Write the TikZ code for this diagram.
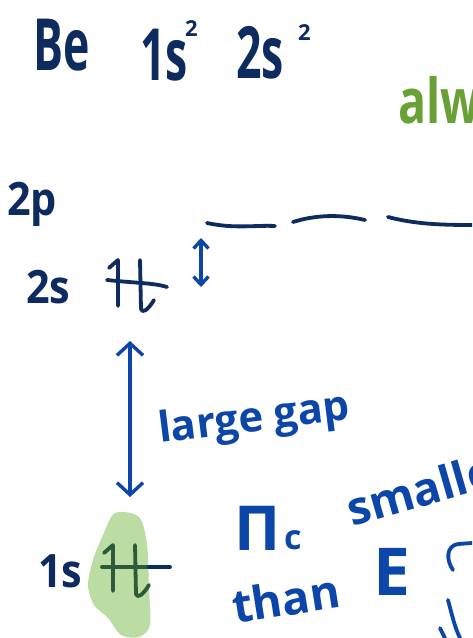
\documentclass[tikz,border=0pt]{standalone}
\usepackage{fontspec}
\setmainfont{Open Sans}
\usetikzlibrary{arrows.meta}
\definecolor{ink_navy}{HTML}{0D2B5E}
\definecolor{ink_blue}{HTML}{0C46A8}
\definecolor{ink_green}{HTML}{6AA136}
\definecolor{mark_green}{HTML}{BBDCA2}
\definecolor{mark_dark}{HTML}{2D5B3A}

\begin{document}
\begin{tikzpicture}[
    x=1pt, y=-1pt,
    pen/.style={line width=3.8pt, line cap=round, line join=round},
    level/.style={pen, draw=ink_navy},
    hand/.style={inner sep=0pt, anchor=base west},
    title/.style={hand, text=ink_navy, xscale=0.62, font=\fontsize{72}{72}\selectfont\bfseries},
    power/.style={hand, text=ink_navy, font=\fontsize{22}{22}\selectfont\bfseries},
    orb/.style={hand, text=ink_navy, xscale=0.9, font=\fontsize{46}{46}\selectfont\bfseries},
    note/.style={hand, text=ink_blue, font=\fontsize{46}{46}\selectfont\bfseries},
    gap arrow/.style={draw=ink_blue, line width=3.4pt, line cap=round,
        {Straight Barb[length=8pt, width=15pt]}-{Straight Barb[length=8pt, width=15pt]}},
    big arrow/.style={gap arrow,
        {Straight Barb[length=12pt, width=26pt]}-{Straight Barb[length=12pt, width=26pt]}},
    pics/epair/.style={code={
        \draw[pen, draw=#1] (2,-14) -- (11,-22) -- (11,24);
        \draw[pen, draw=#1] (33,-22) -- (34,27) .. controls (35,32) and (41,28) .. (47,18);
    }}
]
\useasboundingbox (0,0) rectangle (472,638);
\fill[white] (0,0) rectangle (472,638);
\clip (0,0) rectangle (472,638);

% ================================================================
% Kopfzeile: Konfiguration
% ================================================================
\node[title] (be) at (33,70) {Be};
\node[title] (cfg1s) at (140,80) {1s};
\node[power] (cfg1sq) at (185,36) {2};
\node[title] (cfg2s) at (236,78) {2s};
\node[power] (cfg2sq) at (298,40) {2};

\node[hand, text=ink_green, xscale=0.75, font=\fontsize{62}{62}\selectfont\bfseries] (alw) at (398,123) {alw};

% ================================================================
% Niveaus
% ================================================================
\node[orb] (lbl2p) at (7,215) {2p};
\node[orb] (lbl2s) at (26,303) {2s};
\node[orb] (lbl1s) at (38,587) {1s};

% 2p: drei leere Orbitale
\draw[level] (207,223) .. controls (235,229) and (255,225) .. (275,226);
\draw[level] (293,222) .. controls (315,215) and (340,214) .. (365,220);
\draw[level] (388,217) .. controls (415,224) and (440,225) .. (472,225);

% 2s: volles Orbital
\draw[level] (107,280) .. controls (135,283) and (155,283) .. (167,287);
\pic (pair2s) at (107,282) {epair=ink_navy};

% 1s: volles Orbital unter dem Marker
\fill[mark_green] plot[smooth cycle] coordinates {(115,513) (139,517) (147,545) (149,590)
    (150,625) (139,637) (121,635) (108,618) (94,605) (88,585) (93,560) (103,535)};
\draw[level, draw=mark_dark] (102,567) -- (149,567);
\draw[level] (149,567) -- (170,567);
\pic (pair1s) at (102,567) {epair=mark_dark};

% ================================================================
% Abstaende
% ================================================================
\coordinate (g2top) at (201,238);
\coordinate (g2bot) at (201,287);
\draw[gap arrow] (g2top) -- (g2bot);

\coordinate (gtop) at (130,341);
\coordinate (gbot) at (130,497);
\draw[big arrow] (gtop) -- (gbot);

\node[note, font=\fontsize{42}{42}\selectfont\bfseries, rotate=7] (gap) at (160,443) {large gap};

% ================================================================
% Notiz rechts unten
% ================================================================
\node[note, font=\fontsize{62}{62}\selectfont\bfseries] (pic) at (234,550) {Π};
\node[note, font=\fontsize{34}{34}\selectfont\bfseries] (pisub) at (284,549) {c};
\node[note, rotate=16] (smaller) at (352,527) {smalle};
\node[note, rotate=9] (than) at (235,624) {than};
\node[note, font=\fontsize{66}{66}\selectfont\bfseries] (en) at (373,595) {E};

% abgeschnittene Striche am Rand
\draw[pen, draw=ink_blue] (453,570) .. controls (446,560) and (446,546) .. (458,544) -- (472,543);
\draw[pen, draw=ink_blue] (448,600) .. controls (452,615) and (455,628) .. (460,638);
\draw[pen, draw=ink_blue] (440,628) -- (445,638);

\end{tikzpicture}
\end{document}
